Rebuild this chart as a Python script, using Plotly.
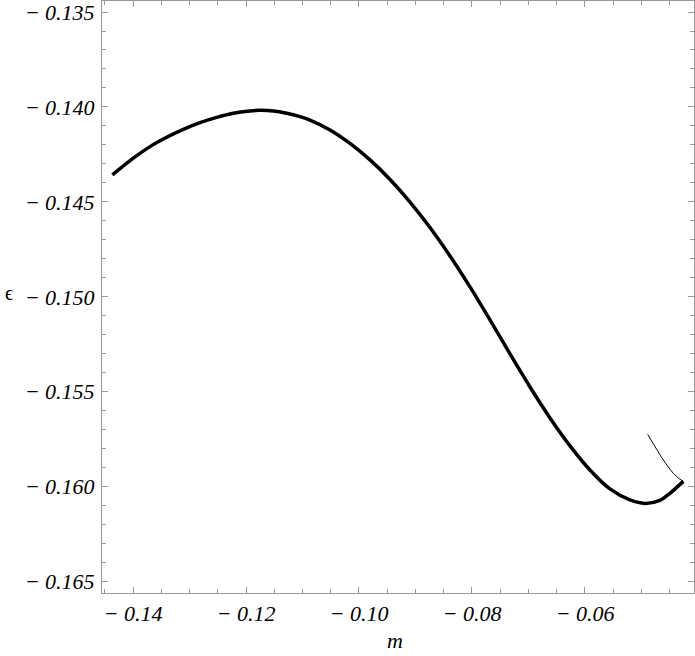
import plotly.graph_objects as go

# main (thick) branch
m_main = [-0.14366, -0.13995, -0.13699, -0.13404, -0.13110, -0.12814, -0.12519,
          -0.12225, -0.11929, -0.11752, -0.11517, -0.11280, -0.11044, -0.10867,
          -0.10513, -0.10159, -0.09805, -0.09451, -0.09097, -0.08743, -0.08389,
          -0.08035, -0.07681, -0.07327, -0.06973, -0.06619, -0.06265, -0.05912,
          -0.05558, -0.05204, -0.04938, -0.04673, -0.04496, -0.04260]
eps_main = [-0.14358, -0.14270, -0.14209, -0.14160, -0.14118, -0.14083, -0.14055,
            -0.14033, -0.14021, -0.14018, -0.14021, -0.14033, -0.14051, -0.14069,
            -0.14121, -0.14192, -0.14279, -0.14382, -0.14501, -0.14635, -0.14785,
            -0.14948, -0.15122, -0.15301, -0.15475, -0.15638, -0.15785, -0.15912,
            -0.16012, -0.16070, -0.16088, -0.16072, -0.16035, -0.15972]

# thin branch
m_thin = [-0.04890, -0.04614, -0.04437, -0.04319, -0.04260]
eps_thin = [-0.15724, -0.15859, -0.15929, -0.15961, -0.15970]

x_ticks = [-0.14, -0.12, -0.10, -0.08, -0.06]
x_labels = ["\u2212 0.14", "\u2212 0.12", "\u2212 0.10", "\u2212 0.08", "\u2212 0.06"]
y_ticks = [-0.165, -0.160, -0.155, -0.150, -0.145, -0.140, -0.135]
y_labels = ["\u2212 0.165", "\u2212 0.160", "\u2212 0.155", "\u2212 0.150",
            "\u2212 0.145", "\u2212 0.140", "\u2212 0.135"]

SERIF = "Liberation Serif, Times New Roman, serif"

fig = go.Figure()
fig.add_trace(go.Scatter(x=m_main, y=eps_main, mode="lines",
                         line=dict(color="black", width=3.5, shape="spline", smoothing=0.8),
                         showlegend=False))
fig.add_trace(go.Scatter(x=m_thin, y=eps_thin, mode="lines",
                         line=dict(color="black", width=1, shape="spline", smoothing=0.8),
                         showlegend=False))

tickfont = dict(family=SERIF, size=22, color="black", style="italic")
axis_common = dict(showgrid=False, zeroline=False, showline=True, linecolor="#999999",
                   linewidth=1, mirror="allticks", ticks="inside", ticklen=6,
                   tickcolor="#999999", tickfont=tickfont, ticklabeloverflow="allow")

fig.update_xaxes(range=[-0.14549, -0.0407], tickvals=x_ticks, ticktext=x_labels,
                 ticklabelstandoff=1,
                 minor=dict(ticks="inside", ticklen=4, dtick=0.005, tick0=-0.14,
                            tickcolor="#999999"),
                 **axis_common)
fig.update_yaxes(range=[-0.1656, -0.13442], tickvals=y_ticks, ticktext=y_labels,
                 ticklabelstandoff=2,
                 minor=dict(ticks="inside", ticklen=4, dtick=0.001, tick0=-0.135,
                            tickcolor="#999999"),
                 **axis_common)

fig.add_annotation(text="m", xref="paper", yref="paper", x=0.495, y=-0.08,
                   xanchor="center", yanchor="middle", showarrow=False, borderpad=0,
                   font=dict(family=SERIF, size=22, color="black", style="italic"))
fig.add_annotation(text="\u03f5", xref="paper", yref="paper", x=-0.167, y=0.507,
                   xanchor="left", yanchor="middle", showarrow=False,
                   font=dict(family=SERIF, size=20, color="black"))

fig.update_layout(width=695, height=656, margin=dict(l=102, r=1, t=1, b=63),
                  plot_bgcolor="white", paper_bgcolor="white")

fig.write_html("out.html", config={"displayModeBar": False},
               post_script="document.body.style.margin='0';")
